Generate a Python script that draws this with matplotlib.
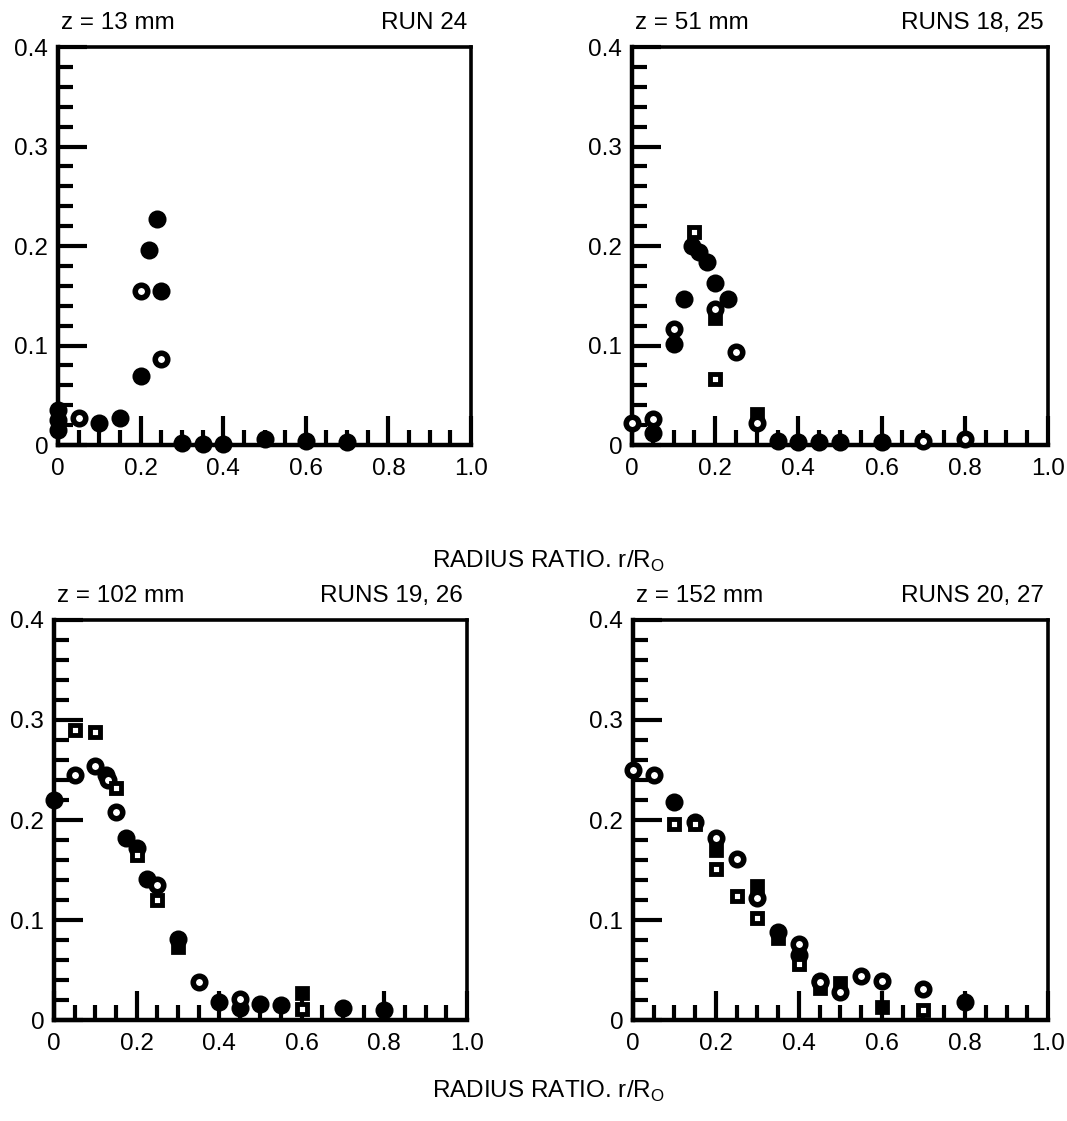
import numpy as np
import matplotlib
matplotlib.use("Agg")
import matplotlib.pyplot as plt
from matplotlib.ticker import MultipleLocator, FixedLocator

plt.rcParams["font.family"] = ["Liberation Sans", "DejaVu Sans"]

# panel titles
heights = ["z = 13 mm", "z = 51 mm", "z = 102 mm", "z = 152 mm"]
runs = ["RUN 24", "RUNS 18, 25", "RUNS 19, 26", "RUNS 20, 27"]

# z = 13 mm
p1_fc_x = [0, 0, 0, 0.1, 0.15, 0.2, 0.22, 0.24, 0.25, 0.3, 0.35, 0.4, 0.5, 0.6, 0.7]
p1_fc_y = [0.035, 0.025, 0.015, 0.022, 0.027, 0.069, 0.196, 0.227, 0.155, 0.002, 0.001, 0.001, 0.006, 0.004, 0.003]
p1_oc_x = [0.05, 0.2, 0.25]
p1_oc_y = [0.027, 0.155, 0.086]
p1_os_x, p1_os_y = [], []
p1_fs_x, p1_fs_y = [], []

# z = 51 mm
p2_fc_x = [0.05, 0.1, 0.125, 0.145, 0.16, 0.18, 0.2, 0.23, 0.35, 0.4, 0.45, 0.5, 0.6]
p2_fc_y = [0.012, 0.102, 0.147, 0.2, 0.194, 0.184, 0.163, 0.147, 0.004, 0.003, 0.003, 0.003, 0.003]
p2_oc_x = [0, 0.05, 0.1, 0.2, 0.25, 0.3, 0.7, 0.8]
p2_oc_y = [0.022, 0.026, 0.117, 0.137, 0.094, 0.022, 0.004, 0.006]
p2_os_x = [0.15, 0.2]
p2_os_y = [0.214, 0.066]
p2_fs_x = [0.2, 0.3]
p2_fs_y = [0.128, 0.031]

# z = 102 mm
p3_fc_x = [0, 0.125, 0.175, 0.2, 0.225, 0.3, 0.4, 0.45, 0.5, 0.55, 0.7, 0.8]
p3_fc_y = [0.22, 0.245, 0.182, 0.172, 0.141, 0.081, 0.018, 0.012, 0.016, 0.015, 0.012, 0.01]
p3_oc_x = [0.05, 0.1, 0.13, 0.15, 0.25, 0.35, 0.45]
p3_oc_y = [0.245, 0.254, 0.24, 0.208, 0.135, 0.038, 0.021]
p3_os_x = [0.05, 0.1, 0.15, 0.2, 0.25, 0.6]
p3_os_y = [0.29, 0.288, 0.232, 0.165, 0.12, 0.011]
p3_fs_x = [0.3, 0.6]
p3_fs_y = [0.073, 0.027]

# z = 152 mm
p4_fc_x = [0.1, 0.15, 0.35, 0.4, 0.45, 0.8]
p4_fc_y = [0.218, 0.198, 0.088, 0.065, 0.039, 0.018]
p4_oc_x = [0, 0.05, 0.2, 0.25, 0.3, 0.4, 0.45, 0.5, 0.55, 0.6, 0.7]
p4_oc_y = [0.25, 0.245, 0.182, 0.161, 0.122, 0.076, 0.038, 0.028, 0.044, 0.039, 0.031]
p4_os_x = [0.1, 0.15, 0.2, 0.25, 0.3, 0.4, 0.7]
p4_os_y = [0.196, 0.196, 0.151, 0.124, 0.102, 0.056, 0.01]
p4_fs_x = [0.2, 0.3, 0.35, 0.45, 0.5, 0.6]
p4_fs_y = [0.17, 0.134, 0.082, 0.032, 0.037, 0.013]

panels = [
    (p1_fc_x, p1_fc_y, p1_oc_x, p1_oc_y, p1_os_x, p1_os_y, p1_fs_x, p1_fs_y),
    (p2_fc_x, p2_fc_y, p2_oc_x, p2_oc_y, p2_os_x, p2_os_y, p2_fs_x, p2_fs_y),
    (p3_fc_x, p3_fc_y, p3_oc_x, p3_oc_y, p3_os_x, p3_os_y, p3_fs_x, p3_fs_y),
    (p4_fc_x, p4_fc_y, p4_oc_x, p4_oc_y, p4_os_x, p4_os_y, p4_fs_x, p4_fs_y),
]

rects = [
    [0.0544, 0.603, 0.3870, 0.355],
    [0.5923, 0.603, 0.3899, 0.355],
    [0.0506, 0.090, 0.3870, 0.357],
    [0.5932, 0.090, 0.3890, 0.357],
]

FS = 17.5

fig = plt.figure(figsize=(10.67, 11.21), dpi=100)

for rect, data, ztxt, rtxt in zip(rects, panels, heights, runs):
    fc_x, fc_y, oc_x, oc_y, os_x, os_y, fs_x, fs_y = data
    ax = fig.add_axes(rect)
    kw = dict(linestyle="none", color="black", clip_on=False, zorder=4)
    ax.plot(fc_x, fc_y, marker="o", markersize=11, markeredgewidth=2,
            markerfacecolor="black", **kw)
    ax.plot(fs_x, fs_y, marker="s", markersize=8, markeredgewidth=2,
            markerfacecolor="black", **kw)
    ax.plot(oc_x, oc_y, marker="o", markersize=9, markeredgewidth=4,
            markerfacecolor="white", **kw)
    ax.plot(os_x, os_y, marker="s", markersize=6.5, markeredgewidth=3.5,
            markerfacecolor="white", **kw)

    ax.set_xlim(0, 1.0)
    ax.set_ylim(0, 0.4)
    ax.xaxis.set_major_locator(FixedLocator([0, 0.2, 0.4, 0.6, 0.8, 1.0]))
    ax.xaxis.set_minor_locator(MultipleLocator(0.05))
    ax.yaxis.set_major_locator(FixedLocator([0, 0.1, 0.2, 0.3, 0.4]))
    ax.yaxis.set_minor_locator(MultipleLocator(0.02))
    ax.set_xticklabels(["0", "0.2", "0.4", "0.6", "0.8", "1.0"])
    ax.set_yticklabels(["0", "0.1", "0.2", "0.3", "0.4"])
    ax.tick_params(which="both", direction="in", top=False, right=False,
                   width=3, labelsize=FS, color="black")
    ax.tick_params(which="major", length=21)
    ax.tick_params(which="minor", length=11)
    ax.tick_params(axis="x", which="major", pad=9)
    ax.tick_params(axis="y", which="major", pad=7)
    for side in ["left", "bottom"]:
        ax.spines[side].set_linewidth(3.2)
    for side in ["top", "right"]:
        ax.spines[side].set_linewidth(2.6)

    ax.annotate(ztxt, xy=(0, 1), xycoords="axes fraction", xytext=(2, 13),
                textcoords="offset points", ha="left", va="baseline", fontsize=FS)
    ax.annotate(rtxt, xy=(1, 1), xycoords="axes fraction", xytext=(-3, 13),
                textcoords="offset points", ha="right", va="baseline", fontsize=FS)

fig.text(0.514, 0.499, r"RADIUS RATIO. r/R$_\mathregular{O}$", ha="center",
         va="center", fontsize=FS)
fig.text(0.514, 0.026, r"RADIUS RATIO. r/R$_\mathregular{O}$", ha="center",
         va="center", fontsize=FS)

fig.savefig("out.png", dpi=100)
